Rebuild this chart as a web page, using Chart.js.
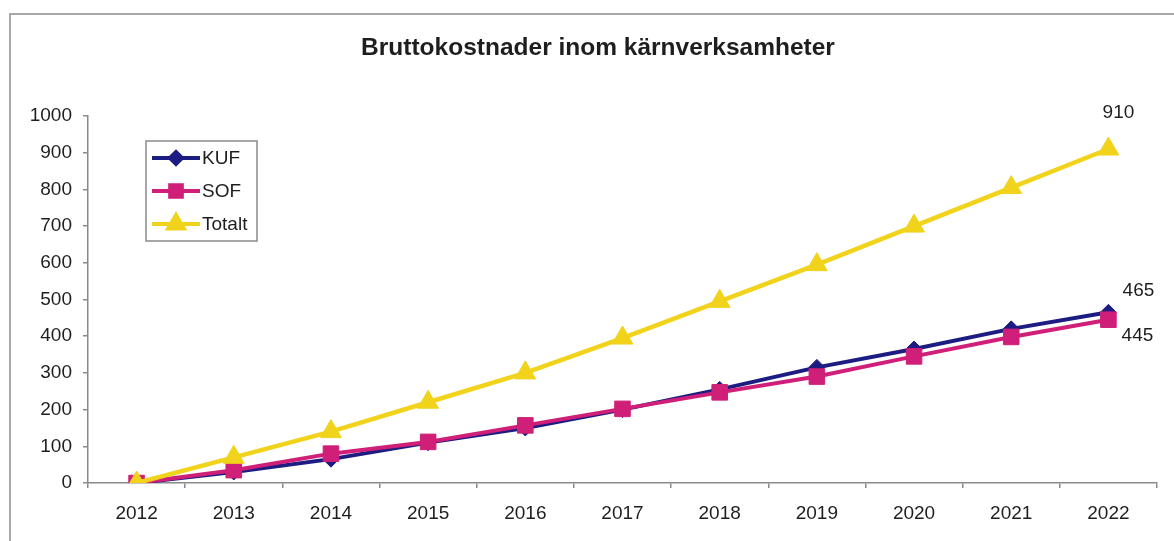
<!DOCTYPE html>
<html>
<head>
<meta charset="utf-8">
<script src="https://cdn.jsdelivr.net/npm/chart.js@4.4.1/dist/chart.umd.min.js"></script>
<style>
  html, body { margin: 0; padding: 0; background: #ffffff; }
  #wrap { position: relative; width: 1174px; height: 541px; }
  canvas { display: block; }
</style>
</head>
<body>
<div id="wrap"><canvas id="c" width="1174" height="541"></canvas></div>
<script>
const titleText = 'Bruttokostnader inom kärnverksamheter';
const years = ['2012','2013','2014','2015','2016','2017','2018','2019','2020','2021','2022'];
const kufValues = [0, 30, 65, 110, 150, 200, 255, 315, 365, 420, 465];
const sofValues = [0, 35, 80, 112, 157, 202, 247, 290, 345, 398, 445];
const totaltValues = [0, 70, 140, 220, 300, 395, 495, 595, 700, 805, 910];
const seriesNames = ['KUF', 'SOF', 'Totalt'];
const endLabels = ['465', '445', '910'];

const FONT = '"Liberation Sans", Arial, sans-serif';
const TEXT = '#1e1e1e';
const COLORS = ['#1c1c82', '#cf1f78', '#f1d31c'];
const STYLES = ['rectRot', 'rect', 'triangle'];

const framePlugin = {
  id: 'frame',
  beforeDraw(chart) {
    const ctx = chart.ctx;
    ctx.save();
    ctx.fillStyle = '#ffffff';
    ctx.fillRect(0, 0, chart.width, chart.height);
    ctx.strokeStyle = '#a8a8a8';
    ctx.lineWidth = 2;
    ctx.beginPath();
    ctx.moveTo(10, 541);
    ctx.lineTo(10, 14);
    ctx.lineTo(1174, 14);
    ctx.stroke();
    ctx.fillStyle = TEXT;
    ctx.font = 'bold 24.5px ' + FONT;
    ctx.textAlign = 'center';
    ctx.textBaseline = 'middle';
    ctx.fillText(titleText, 598, 48);
    ctx.restore();
  }
};

const legendPlugin = {
  id: 'boxLegend',
  afterDraw(chart) {
    const ctx = chart.ctx;
    ctx.save();
    ctx.strokeStyle = '#8a8a8a';
    ctx.lineWidth = 1.5;
    ctx.strokeRect(146, 141, 111, 100);
    chart.data.datasets.forEach((ds, i) => {
      const y = 158 + i * 33;
      ctx.strokeStyle = ds.borderColor;
      ctx.lineWidth = 4;
      ctx.beginPath();
      ctx.moveTo(152, y);
      ctx.lineTo(200, y);
      ctx.stroke();
      ctx.fillStyle = ds.backgroundColor;
      ctx.strokeStyle = ds.borderColor;
      Chart.helpers.drawPoint(ctx, {pointStyle: ds.pointStyle, radius: ds.pointRadius * 0.75, rotation: 0, borderWidth: 1}, 176, y);
      ctx.fillStyle = TEXT;
      ctx.font = '19px ' + FONT;
      ctx.textBaseline = 'middle';
      ctx.textAlign = 'left';
      ctx.fillText(ds.label, 202, y + 1);
    });
    ctx.restore();
  }
};

const endLabelPlugin = {
  id: 'endLabels',
  afterDatasetsDraw(chart) {
    const ctx = chart.ctx;
    const offsets = [[30, -22], [29, 16], [10, -36]];
    ctx.save();
    ctx.fillStyle = TEXT;
    ctx.font = '19px ' + FONT;
    ctx.textAlign = 'center';
    ctx.textBaseline = 'middle';
    chart.data.datasets.forEach((ds, i) => {
      const meta = chart.getDatasetMeta(i);
      const pt = meta.data[meta.data.length - 1];
      ctx.fillText(endLabels[i], pt.x + offsets[i][0], pt.y + offsets[i][1]);
    });
    ctx.restore();
  }
};

const seriesData = [kufValues, sofValues, totaltValues];
const datasets = seriesNames.map((name, i) => ({
  label: name,
  data: seriesData[i],
  borderColor: COLORS[i],
  backgroundColor: COLORS[i],
  borderWidth: i === 2 ? 4.5 : 4,
  pointStyle: STYLES[i],
  pointRadius: i === 0 ? 8 : (i === 1 ? 11 : 12),
  pointBorderWidth: 1,
  tension: 0,
  order: 3 - i
}));

new Chart(document.getElementById('c'), {
  type: 'line',
  data: { labels: years, datasets },
  options: {
    responsive: false,
    animation: false,
    devicePixelRatio: 1,
    layout: { padding: { left: 0, right: 17, top: 116, bottom: 0 } },
    plugins: {
      legend: { display: false },
      tooltip: { enabled: false },
      title: { display: false }
    },
    scales: {
      x: {
        type: 'category',
        offset: true,
        grid: { offset: true, drawOnChartArea: false, drawTicks: true, tickLength: 5, color: '#8a8a8a', lineWidth: 1.5 },
        border: { display: true, color: '#8a8a8a', width: 1.5 },
        ticks: { color: TEXT, font: { family: FONT, size: 19 }, padding: 14, maxRotation: 0, autoSkip: false },
        afterFit(scale) { scale.height = 58; }
      },
      y: {
        min: 0,
        max: 1000,
        grid: { drawOnChartArea: false, drawTicks: true, tickLength: 5, color: '#8a8a8a', lineWidth: 1.5 },
        border: { display: true, color: '#8a8a8a', width: 1.5 },
        ticks: { stepSize: 100, color: TEXT, font: { family: FONT, size: 19 }, padding: 11,
                 callback: (v) => String(v) },
        afterFit(scale) { scale.width = 88; }
      }
    }
  },
  plugins: [framePlugin, legendPlugin, endLabelPlugin]
});
</script>
</body>
</html>
